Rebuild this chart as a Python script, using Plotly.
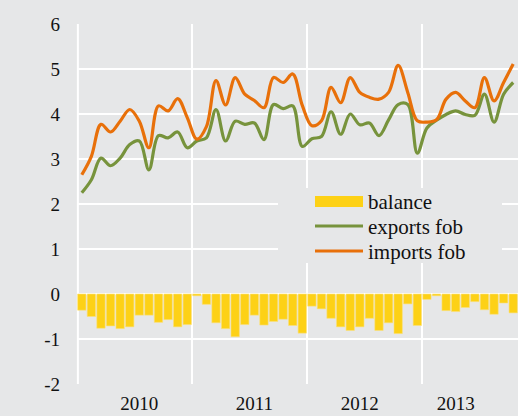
import plotly.graph_objects as go

# monthly trade data, Jan 2010 - Oct 2013
months = list(range(46))
years = ["2010", "2011", "2012", "2013"]
year_pos = [6, 18, 29, 39]
y_ticks = [-2, -1, 0, 1, 2, 3, 4, 5, 6]
y_labels = ["-2", "-1", "0", "1", "2", "3", "4", "5", "6"]

exports_fob = [2.25, 2.54, 3.02, 2.85, 3.02, 3.32, 3.40, 2.76, 3.52, 3.47, 3.60, 3.25,
               3.40, 3.47, 4.10, 3.40, 3.84, 3.77, 3.80, 3.43, 4.21, 4.12, 4.18, 3.28,
               3.45, 3.50, 4.05, 3.55, 4.00, 3.76, 3.80, 3.52, 3.87, 4.21, 4.21, 3.13,
               3.69, 3.86, 3.99, 4.07, 3.99, 3.97, 4.44, 3.82, 4.44, 4.70]
imports_fob = [2.65, 3.06, 3.77, 3.60, 3.84, 4.10, 3.84, 3.25, 4.18, 4.07, 4.34, 3.92,
               3.44, 3.72, 4.74, 4.20, 4.81, 4.44, 4.30, 4.14, 4.81, 4.70, 4.89, 4.19,
               3.74, 3.85, 4.59, 4.25, 4.81, 4.48, 4.37, 4.33, 4.48, 5.08, 4.48, 3.85,
               3.82, 3.87, 4.33, 4.48, 4.29, 4.14, 4.81, 4.29, 4.70, 5.11]
balance = [-0.36, -0.50, -0.76, -0.71, -0.77, -0.73, -0.47, -0.47, -0.63, -0.57, -0.73, -0.68,
           -0.04, -0.23, -0.64, -0.77, -0.95, -0.68, -0.47, -0.69, -0.61, -0.56, -0.70, -0.87,
           -0.27, -0.33, -0.54, -0.73, -0.81, -0.73, -0.54, -0.81, -0.64, -0.88, -0.22, -0.70,
           -0.12, -0.04, -0.37, -0.39, -0.30, -0.17, -0.35, -0.45, -0.20, -0.42]

BG = "#e6e7e8"
YELLOW = "#fdd116"
GREEN = "#77933c"
ORANGE = "#e8700a"
FONT = "'Liberation Serif', 'Times New Roman', 'DejaVu Serif', serif"

W, H = 518, 416
L, R, T, B = 77, 0, 24, 32


def px(x):
    return (x - L) / (W - L - R)


def py(y):
    return (H - B - y) / (H - T - B)


fig = go.Figure()
fig.add_trace(go.Bar(x=months, y=balance, name="balance",
                     marker=dict(color=YELLOW, line=dict(color="#fbe07a", width=0.6))))
fig.add_trace(go.Scatter(x=months, y=exports_fob, name="exports fob", mode="lines",
                         line=dict(color=GREEN, width=3.2, shape="spline", smoothing=1)))
fig.add_trace(go.Scatter(x=months, y=imports_fob, name="imports fob", mode="lines",
                         line=dict(color=ORANGE, width=3.2, shape="spline", smoothing=1)))

shapes = [
    # left edge grid line
    dict(type="line", xref="paper", yref="paper", x0=0.002, x1=0.002, y0=0, y1=1,
         line=dict(color="white", width=2), layer="below"),
    # hand-drawn legend box (covers the grid like the original)
    dict(type="rect", xref="paper", yref="paper", x0=px(278), x1=px(502), y0=py(263), y1=py(188),
         fillcolor=BG, line=dict(width=0), layer="above"),
    dict(type="rect", xref="paper", yref="paper", x0=px(315), x1=px(363), y0=py(207), y1=py(196),
         fillcolor=YELLOW, line=dict(width=0), layer="above"),
    dict(type="line", xref="paper", yref="paper", x0=px(315), x1=px(363), y0=py(226), y1=py(226),
         line=dict(color=GREEN, width=3), layer="above"),
    dict(type="line", xref="paper", yref="paper", x0=px(315), x1=px(363), y0=py(251), y1=py(251),
         line=dict(color=ORANGE, width=3), layer="above"),
]
annotations = []
for txt, yy in [("balance", 202), ("exports fob", 227), ("imports fob", 252)]:
    annotations.append(dict(text=txt, xref="paper", yref="paper", x=px(366), y=py(yy),
                            xanchor="left", yanchor="middle", showarrow=False,
                            font=dict(family=FONT, size=21, color="#111111")))

fig.update_layout(
    width=W, height=H,
    margin=dict(l=L, r=R, t=T, b=B),
    paper_bgcolor=BG, plot_bgcolor=BG,
    showlegend=False,
    hovermode=False,
    bargap=0.13,
    font=dict(family=FONT, size=19, color="#111111"),
    shapes=shapes,
    annotations=annotations,
)
fig.update_xaxes(range=[-0.5, 45.5], tickvals=year_pos, ticktext=years, showgrid=False,
                 zeroline=False, ticks="", ticklabelstandoff=6,
                 minor=dict(tickvals=[-0.5, 11.5, 23.5, 35.5], showgrid=True,
                            gridcolor="white", gridwidth=2, ticks=""))
fig.update_yaxes(range=[-2, 6], tickvals=y_ticks, ticktext=y_labels, showgrid=True,
                 gridcolor="white", gridwidth=2, zeroline=False, ticks="",
                 ticklabelstandoff=16)

fig.write_html("out.html", config={"displayModeBar": False},
               post_script="document.body.style.margin='0';")
